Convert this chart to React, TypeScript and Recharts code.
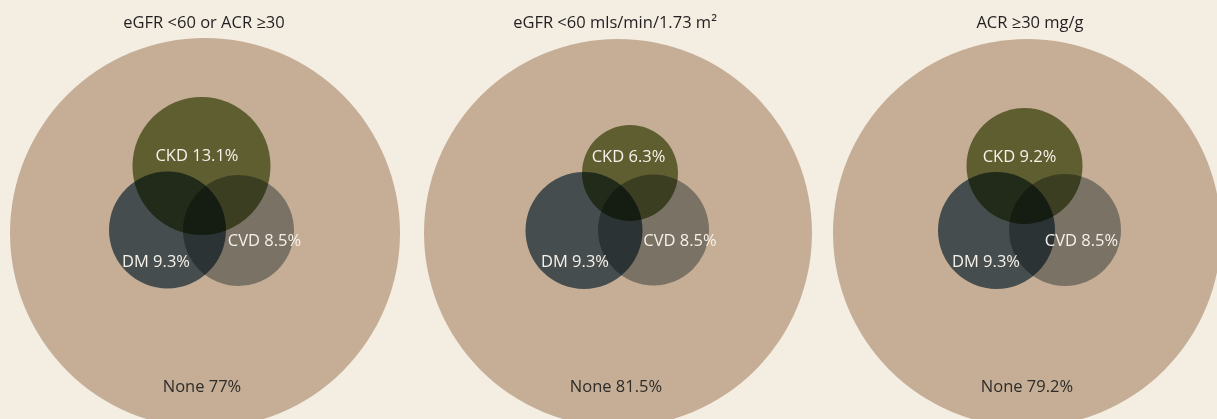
import React from 'react';
import { ScatterChart, Scatter, XAxis, YAxis } from 'recharts';

const CHART_W = 1217;
const CHART_H = 419;

const panelTitles = ['eGFR <60 or ACR ≥30', 'eGFR <60 mls/min/1.73 m²', 'ACR ≥30 mg/g'];
const titleX = [204, 615, 1030];

const ckdPct = ['13.1', '6.3', '9.2'];
const dmPct = ['9.3', '9.3', '9.3'];
const cvdPct = ['8.5', '8.5', '8.5'];
const nonePct = ['77', '81.5', '79.2'];

// circle layouts per panel (x, y, radius in chart units)
const outerCircles = [
  { x: 205, y: 233, r: 195 },
  { x: 618, y: 233, r: 194 },
  { x: 1027, y: 233, r: 194 },
];
const ckdCircles = [
  { x: 201.5, y: 166, r: 69 },
  { x: 630, y: 173, r: 48 },
  { x: 1024.5, y: 166, r: 58 },
];
const dmCircles = [
  { x: 167.5, y: 230, r: 58.5 },
  { x: 584, y: 230.5, r: 58.5 },
  { x: 996.5, y: 230.5, r: 58.5 },
];
const cvdCircles = [
  { x: 238.5, y: 230.5, r: 55.5 },
  { x: 653.5, y: 230, r: 55.5 },
  { x: 1065, y: 230, r: 56 },
];

// label anchors (text baseline)
const ckdLabelPos = [{ x: 197, y: 161 }, { x: 628.5, y: 161.5 }, { x: 1019.5, y: 161.5 }];
const dmLabelPos = [{ x: 156, y: 266.5 }, { x: 575, y: 266.5 }, { x: 986, y: 266.5 }];
const cvdLabelPos = [{ x: 264.5, y: 245.5 }, { x: 680, y: 245.5 }, { x: 1081.5, y: 245.5 }];
const noneLabelPos = [{ x: 202, y: 391.5 }, { x: 616, y: 391.5 }, { x: 1027, y: 391.5 }];

const FONT = '"Open Sans", sans-serif';
const PX_PER_UNIT = CHART_W / CHART_W;

const titleData = panelTitles.map((t, i) => ({ x: titleX[i], y: 28, text: t, color: '#231f20' }));
const labelData = [
  ...ckdLabelPos.map((p, i) => ({ ...p, text: `CKD ${ckdPct[i]}%`, color: '#f6f1e9' })),
  ...dmLabelPos.map((p, i) => ({ ...p, text: `DM ${dmPct[i]}%`, color: '#f6f1e9' })),
  ...cvdLabelPos.map((p, i) => ({ ...p, text: `CVD ${cvdPct[i]}%`, color: '#f6f1e9' })),
  ...noneLabelPos.map((p, i) => ({ ...p, text: `None ${nonePct[i]}%`, color: '#2e2b29' })),
  ...titleData,
];

const circleShape = (fill: string, blend: boolean) => (props: any) => {
  const { cx, cy, payload } = props;
  return (
    <circle
      cx={cx}
      cy={cy}
      r={payload.r * PX_PER_UNIT}
      fill={fill}
      style={blend ? { mixBlendMode: 'multiply' } : undefined}
    />
  );
};

const TextShape = (props: any) => {
  const { cx, cy, payload } = props;
  return (
    <text x={cx} y={cy} textAnchor="middle" fill={payload.color} fontSize={16.5} fontFamily={FONT}>
      {payload.text}
    </text>
  );
};

export default function App() {
  return (
    <div style={{ position: 'absolute', left: 0, top: 0, width: CHART_W, height: CHART_H, background: '#f4ede2' }}>
      <ScatterChart width={CHART_W} height={CHART_H} margin={{ top: 0, right: 0, bottom: 0, left: 0 }}>
        <XAxis type="number" dataKey="x" domain={[0, CHART_W]} hide />
        <YAxis type="number" dataKey="y" domain={[0, CHART_H]} reversed hide />
        <Scatter data={outerCircles} shape={circleShape('#c5ae95', false)} isAnimationActive={false} />
        <Scatter data={ckdCircles} shape={circleShape('#7b8a52', true)} isAnimationActive={false} />
        <Scatter data={dmCircles} shape={circleShape('#5a7185', true)} isAnimationActive={false} />
        <Scatter data={cvdCircles} shape={circleShape('#9ea7ad', true)} isAnimationActive={false} />
        <Scatter data={labelData} shape={TextShape} isAnimationActive={false} />
      </ScatterChart>
    </div>
  );
}
